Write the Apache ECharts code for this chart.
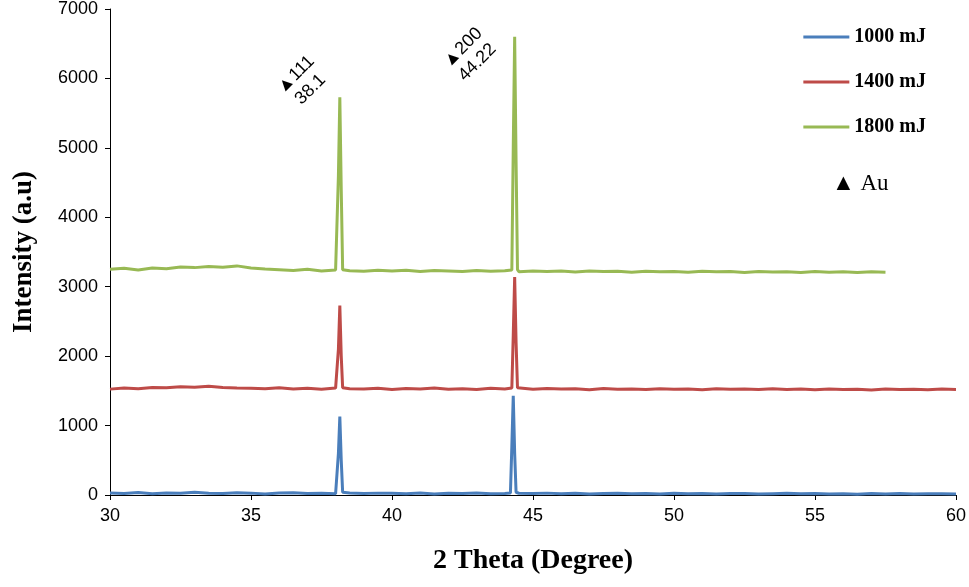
<!DOCTYPE html><html><head><meta charset="utf-8">
<script src="https://cdn.jsdelivr.net/npm/echarts@6/dist/echarts.min.js"></script>
<style>html,body{margin:0;padding:0;background:#fff}#c{width:969px;height:587px}</style></head><body><div id="c"></div>
<script>
const xBase=[30,30.5,31,31.5,32,32.5,33,33.5,34,34.5,35,35.5,36,36.5,37,37.5,38,38.5,39,39.5,40,40.5,41,41.5,42,42.5,43,43.5,44,44.5,45,45.5,46,46.5,47,47.5,48,48.5,49,49.5,50,50.5,51,51.5,52,52.5,53,53.5,54,54.5,55,55.5,56,56.5,57,57.5,58,58.5,59,59.5,60];
const blueBase=[28,22,35,18,30,26,38,24,20,31,27,15,29,33,21,25,18,30,22,27,24,19,28,16,26,21,30,17,23,25,20,27,18,24,15,22,26,19,21,14,25,18,23,16,20,22,13,19,24,17,21,15,18,12,20,16,22,14,19,17,15];
const redBase=[1525,1540,1532,1548,1545,1560,1552,1565,1548,1540,1538,1530,1545,1528,1536,1522,1540,1530,1526,1538,1520,1534,1528,1542,1524,1532,1518,1536,1527,1530,1522,1535,1525,1529,1517,1533,1524,1528,1520,1531,1523,1527,1515,1530,1522,1526,1518,1529,1521,1525,1516,1528,1520,1524,1514,1527,1519,1523,1517,1525,1520];
const greenBase=[3250,3265,3240,3270,3260,3285,3275,3290,3280,3300,3270,3255,3245,3235,3250,3228,3240,3230,3222,3236,3225,3238,3220,3232,3226,3218,3234,3224,3230,3216,3228,3220,3225,3212,3226,3218,3222,3210,3224,3215,3220,3208,3222,3214,3218,3206,3220,3212,3216,3205,3218,3210,3214,3204,3215,3210];
const bluePeaks=[[38.05,30],[38.1,600],[38.15,1130],[38.2,500],[38.25,40],[44.2,30],[44.25,700],[44.3,1430],[44.35,600],[44.4,40]];
const redPeaks=[[38.05,1540],[38.1,2100],[38.15,2730],[38.2,2000],[38.25,1545],[44.25,1540],[44.3,2300],[44.35,3140],[44.4,2200],[44.45,1545]];
const greenPeaks=[[38.05,3240],[38.1,4600],[38.15,5730],[38.2,4400],[38.25,3245],[44.25,3240],[44.3,5000],[44.35,6600],[44.4,4800],[44.45,3245]];
const names=['1000 mJ','1400 mJ','1800 mJ'];
const colors=['#4a7ebb','#be4b48','#98b954'];
function build(base,peaks){const d=base.map((v,i)=>[xBase[i],v]).concat(peaks);d.sort((a,b)=>a[0]-b[0]);return d;}
const series=[[blueBase,bluePeaks],[redBase,redPeaks],[greenBase,greenPeaks]].map((p,i)=>({name:names[i],type:'line',data:build(p[0],p[1]),showSymbol:false,lineStyle:{width:3,color:colors[i]},itemStyle:{color:colors[i]}}));
const ch=echarts.init(document.getElementById('c'));
const ser='"Liberation Serif","Times New Roman",serif';
ch.setOption({animation:false,
grid:{left:110,right:12,top:8,bottom:92},
xAxis:{type:'value',min:30,max:60,interval:5,name:'2 Theta (Degree)',nameLocation:'middle',nameGap:52,nameTextStyle:{fontFamily:ser,fontWeight:'bold',fontSize:28,color:'#000'},
 axisLine:{lineStyle:{color:'#000'}},axisTick:{show:true,lineStyle:{color:'#000'}},splitLine:{show:false},axisLabel:{fontFamily:'Liberation Sans',fontSize:18,color:'#000',margin:12}},
yAxis:{type:'value',min:0,max:7000,interval:1000,name:'Intensity (a.u)',nameLocation:'middle',nameGap:72,nameTextStyle:{fontFamily:ser,fontWeight:'bold',fontSize:27,color:'#000'},
 axisLine:{show:true,lineStyle:{color:'#000'}},axisTick:{show:true,lineStyle:{color:'#000'}},splitLine:{show:false},axisLabel:{fontFamily:'Liberation Sans',fontSize:18,color:'#000',margin:12,formatter:v=>String(v)}},
legend:{orient:'vertical',right:38,top:22,itemGap:25,itemWidth:46,itemHeight:3,icon:'rect',textStyle:{fontFamily:ser,fontWeight:'bold',fontSize:20,color:'#000'},data:names},
graphic:[
 {type:'text',left:832,top:172,style:{text:'▲ Au',font:'23px "Liberation Serif"',fill:'#000'}},
 {type:'text',x:303,y:82,rotation:Math.PI/4,style:{text:'▲111\n38.1',font:'18px "Liberation Sans"',fill:'#000',align:'center',verticalAlign:'middle',lineHeight:21}},
 {type:'text',x:470,y:55,rotation:Math.PI/4,style:{text:'▲200\n44.22',font:'18px "Liberation Sans"',fill:'#000',align:'center',verticalAlign:'middle',lineHeight:21}}
],
series});
</script></body></html>
